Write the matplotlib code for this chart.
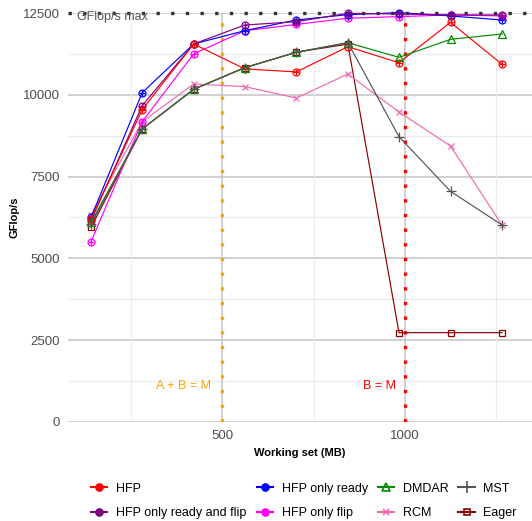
import matplotlib
matplotlib.use("Agg")
import matplotlib.pyplot as plt
from matplotlib.lines import Line2D
import numpy as np

plt.rcParams['font.family'] = ['Liberation Sans', 'DejaVu Sans']

# working set sizes (MB)
ws = [141, 281, 422, 562, 703, 844, 984, 1125, 1266]

hfp = [6200, 9545, 11553, 10790, 10700, 11470, 10980, 12215, 10930]
hfp_ready = [6250, 10064, 11553, 11960, 12286, 12450, 12510, 12410, 12286]
hfp_ready_flip = [6150, 9667, 11553, 12133, 12235, 12490, 12470, 12440, 12440]
hfp_flip = [5510, 9178, 11247, 11960, 12150, 12340, 12390, 12440, 12410]
dmdar = [6100, 8955, 10168, 10830, 11300, 11593, 11145, 11695, 11858]
rcm = [6330, 9178, 10330, 10250, 9900, 10636, 9474, 8435, 6020]
mst = [6050, 8955, 10168, 10830, 11300, 11593, 8720, 7050, 6020]
eager = [5950, 8955, 10168, 10830, 11300, 11550, 2730, 2730, 2730]

gflops_max = 12500
line_ab = 500
line_b = 1000

fig = plt.figure(figsize=(5.32, 5.21), dpi=100)
ax = fig.add_axes([68 / 532, 1 - 422 / 521, 1 - 68 / 532, (422 - 13) / 521])

# grid
for v in [1250, 3750, 6250, 8750, 11250]:
    ax.axhline(v, color='#EBEBEB', lw=0.8, zorder=0)
for v in [0, 2500, 5000, 7500, 10000, 12500]:
    ax.axhline(v, color='#C4C4C4', lw=1.1, zorder=0)
for v in [250, 750, 1250]:
    ax.axvline(v, color='#EBEBEB', lw=0.8, zorder=0)
for v in [500, 1000]:
    ax.axvline(v, color='#C4C4C4', lw=1.1, zorder=0)

dot = (0, (1, 3.4))
ax.axhline(gflops_max, color='#333333', lw=2.4, ls=dot, dash_capstyle='butt', clip_on=False, zorder=1)
ax.axvline(line_ab, color='#FFA500', lw=2.4, ls=dot, dash_capstyle='butt', zorder=1)
ax.axvline(line_b, color='#FF0000', lw=2.4, ls=dot, dash_capstyle='butt', zorder=1)

ax.text(102, 12380, 'GFlop/s max', color='#555555', fontsize=9, va='center', ha='left')
ax.text(470, 1100, 'A + B = M', color='#FFA500', fontsize=9, va='center', ha='right')
ax.text(975, 1100, 'B = M', color='#FF0000', fontsize=9, va='center', ha='right')

ms = 5
lw = 0.85
def circ_plus(y, c):
    ax.plot(ws, y, color=c, lw=lw, marker='o', ms=ms, mfc='none', mec=c, mew=0.9, clip_on=False, zorder=3)
    ax.plot(ws, y, ls='none', marker='+', ms=ms, mec=c, mew=0.9, clip_on=False, zorder=3)

ax.plot(ws, eager, color='#8B0000', lw=lw, marker='s', ms=ms, mfc='none', mew=0.9, clip_on=False, zorder=3)
ax.plot(ws, rcm, color='#F06AB0', lw=lw, marker='x', ms=ms, mew=0.9, clip_on=False, zorder=3)
circ_plus(hfp_flip, '#FF00FF')
circ_plus(hfp_ready, '#0000FF')
circ_plus(hfp_ready_flip, '#800080')
circ_plus(hfp, '#FF0000')
ax.plot(ws, dmdar, color='#008B00', lw=lw, marker='^', ms=ms + 1, mfc='none', mew=0.9, clip_on=False, zorder=3)
ax.plot(ws, mst, color='#555555', lw=lw, marker='+', ms=ms + 2, mew=0.9, clip_on=False, zorder=3)

ax.set_xlim(78, 1348)
ax.set_ylim(0, 12500)
ax.set_xticks([500, 1000])
ax.set_yticks([0, 2500, 5000, 7500, 10000, 12500])
ax.tick_params(length=0, labelsize=9.5, labelcolor='#4D4D4D', pad=6)
for s in ax.spines.values():
    s.set_visible(False)

ax.set_xlabel('Working set (MB)', fontsize=8, fontweight='bold', labelpad=4)
fig.text(14 / 532, 1 - 217 / 521, 'GFlop/s', rotation=90, fontsize=8, fontweight='bold', ha='center', va='center')

def h(c, m, fill=True, size=5):
    return Line2D([], [], color=c, lw=1.5, marker=m, ms=size, mfc=c if fill else 'none', mec=c, mew=1.2)

handles = [h('#FF0000', 'o'), h('#800080', 'o'),
           h('#0000FF', 'o'), h('#FF00FF', 'o'),
           h('#008B00', '^', False, 6), h('#F06AB0', 'x'),
           h('#555555', '+', True, 8), h('#8B0000', 's', False)]
labels = ['HFP', 'HFP only ready and flip', 'HFP only ready', 'HFP only flip',
          'DMDAR', 'RCM', 'MST', 'Eager']
fig.legend(handles, labels, ncol=4, loc='center', bbox_to_anchor=(304 / 532, 1 - 501 / 521),
           frameon=False, fontsize=9, handlelength=1.3, handletextpad=0.7,
           columnspacing=0.8, labelspacing=1.0)

fig.savefig('out.png', dpi=100)
